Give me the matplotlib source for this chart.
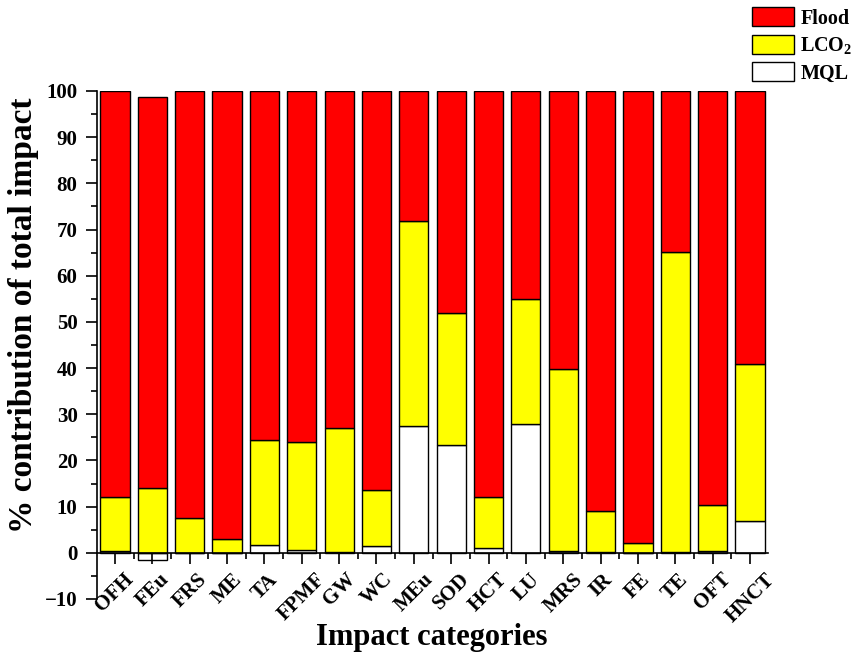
import matplotlib
matplotlib.use("Agg")
import matplotlib.pyplot as plt
import numpy as np
from matplotlib.patches import Patch

categories = ["OFH", "FEu", "FRS", "ME", "TA", "FPMF", "GW", "WC", "MEu", "SOD",
              "HCT", "LU", "MRS", "IR", "FE", "TE", "OFT", "HNCT"]
mql = [0.4, -1.5, 0.0, 0.0, 1.6, 0.6, 0.1, 1.4, 27.4, 23.4,
       1.0, 27.9, 0.3, 0.2, 0.0, 0.1, 0.3, 6.9]
lco2_top = [12.0, 14.0, 7.6, 3.0, 24.4, 24.1, 27.0, 13.7, 71.9, 51.9,
            12.0, 54.9, 39.8, 9.1, 2.1, 65.1, 10.4, 40.9]
total = [100, 98.6, 100, 100, 100, 100, 100, 100, 100, 100,
         100, 100, 100, 100, 100, 100, 100, 100]

mql = np.array(mql)
lco2_top = np.array(lco2_top)
total = np.array(total)
mql_pos = np.clip(mql, 0, None)
lco2 = lco2_top - mql_pos
flood = total - lco2_top

plt.rcParams["font.family"] = ["Liberation Serif", "DejaVu Serif"]
plt.rcParams["font.weight"] = "bold"
plt.rcParams["mathtext.fontset"] = "custom"
plt.rcParams["mathtext.rm"] = "Liberation Serif:bold"
plt.rcParams["mathtext.default"] = "rm"

W, H = 852, 658
fig = plt.figure(figsize=(W / 100, H / 100), dpi=100)
ax = fig.add_axes([97 / W, 1 - 599 / H, (768 - 97) / W, (599 - 91) / H])

x = np.arange(len(categories))
w = 0.78
kw = dict(width=w, edgecolor="black", linewidth=1.0)
ax.bar(x, mql, color="white", **kw)
ax.bar(x, lco2, bottom=mql_pos, color="#ffff00", **kw)
ax.bar(x, flood, bottom=lco2_top, color="#ff0000", **kw)

ax.set_xlim(-0.48, len(categories) - 0.52)
ax.set_ylim(-10, 100)
ax.spines["top"].set_visible(False)
ax.spines["right"].set_visible(False)
ax.spines["bottom"].set_position(("data", 0))
ax.spines["left"].set_linewidth(1.2)
ax.spines["bottom"].set_linewidth(1.2)

ax.set_yticks(np.arange(-10, 101, 10))
ax.set_yticks(np.arange(-5, 100, 10), minor=True)
ax.set_xticks(x)
ax.set_xticks(x[:-1] + 0.5, minor=True)
ax.set_xticklabels(categories, rotation=45, ha="center", va="top",
                   fontsize=15, fontweight="bold")
ax.tick_params(axis="x", which="major", length=8, width=1.2, direction="out", pad=4)
ax.tick_params(axis="x", which="minor", length=4, width=1.2, direction="out")
ax.tick_params(axis="y", which="major", length=8, width=1.2, direction="out",
               labelsize=15, pad=6)
ax.tick_params(axis="y", which="minor", length=4, width=1.2, direction="out")
for t in ax.get_yticklabels():
    t.set_fontweight("bold")

fig.text(24 / W, 1 - 315 / H, "% contribution of total impact", rotation=90,
         ha="center", va="center", fontsize=24, fontweight="bold")
fig.text(432 / W, 1 - 637 / H, "Impact categories", ha="center", va="center",
         fontsize=22, fontweight="bold")

handles = [Patch(facecolor="#ff0000", edgecolor="black", label="Flood"),
           Patch(facecolor="#ffff00", edgecolor="black", label="LCO$_2$"),
           Patch(facecolor="white", edgecolor="black", label="MQL")]
fig.legend(handles=handles, loc="upper left", bbox_to_anchor=(752 / W, 1 - 7 / H),
           frameon=False, handlelength=2.1, handleheight=1.1,
           handletextpad=0.3, labelspacing=0.3, borderpad=0, borderaxespad=0,
           prop={"weight": "bold", "size": 14.5, "family": "Liberation Serif"})

fig.savefig("out.png", dpi=100)
